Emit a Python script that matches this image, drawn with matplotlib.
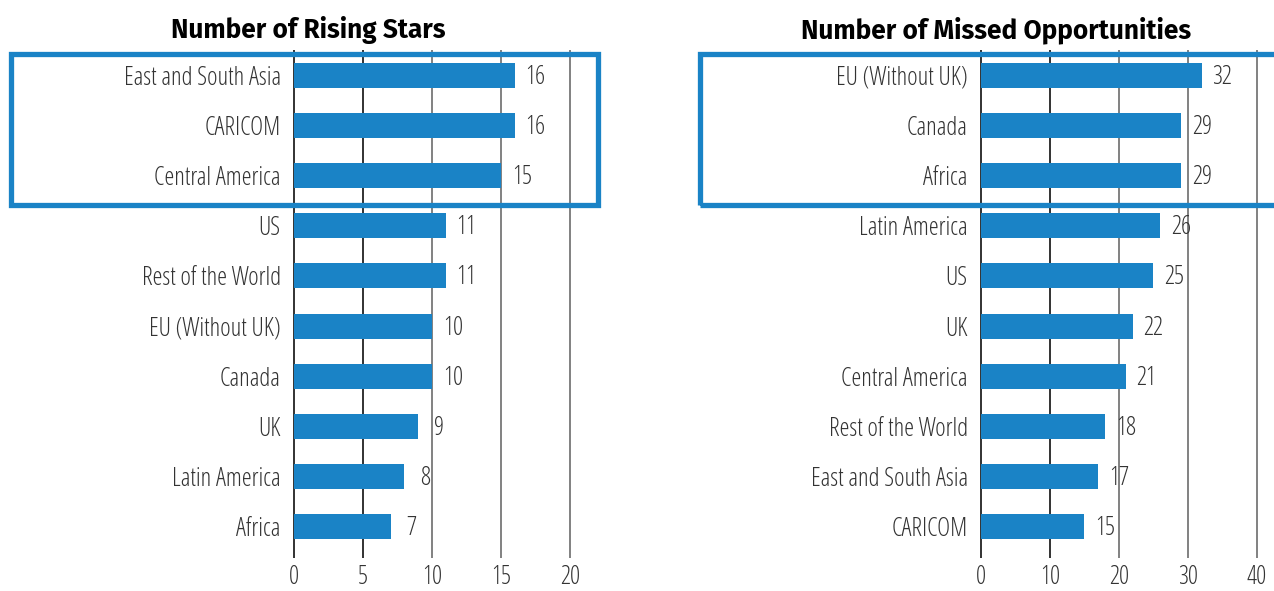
import matplotlib.pyplot as plt
from matplotlib.patches import Rectangle

# Rising stars (top to bottom)
stars_regions = ['East and South Asia', 'CARICOM', 'Central America', 'US',
                 'Rest of the World', 'EU (Without UK)', 'Canada', 'UK',
                 'Latin America', 'Africa']
stars_counts = [16, 16, 15, 11, 11, 10, 10, 9, 8, 7]
stars_ticks = [0, 5, 10, 15, 20]

# Missed opportunities (top to bottom)
missed_regions = ['EU (Without UK)', 'Canada', 'Africa', 'Latin America', 'US',
                  'UK', 'Central America', 'Rest of the World',
                  'East and South Asia', 'CARICOM']
missed_counts = [32, 29, 29, 26, 25, 22, 21, 18, 17, 15]
missed_ticks = [0, 10, 20, 30, 40]

BLUE = '#1a83c6'
TXT = '#333333'
LABEL_FONT = dict(family=['Open Sans', 'DejaVu Sans'], weight=300,
                  stretch='condensed', fontsize=18, color=TXT)
TITLE_FONT = ['Fira Sans', 'Lato', 'DejaVu Sans']

fig = plt.figure(figsize=(12.74, 5.91), dpi=100)
W, H = 1274, 591


def panel(rect, regions, counts, ticks, xlim, title, title_x):
    ax = fig.add_axes(rect)
    pos = list(range(len(regions)))
    for i, t in enumerate(ticks):
        ax.axvline(t, color='#222222' if i < 2 else '#777777', lw=1.3, zorder=0)
    ax.barh(pos, counts, height=0.5, color=BLUE, zorder=2)
    for p, v in zip(pos, counts):
        ax.annotate(str(v), (v, p), xytext=(15, -1.5), textcoords='offset points',
                    ha='center', va='center', zorder=3, **LABEL_FONT)
    ax.set_xlim(*xlim)
    ax.set_ylim(9.62, -0.5)
    ax.set_yticks(pos)
    ax.set_yticklabels(regions, **LABEL_FONT)
    ax.set_xticks(ticks)
    ax.set_xticklabels([str(t) for t in ticks], **LABEL_FONT)
    ax.tick_params(axis='both', length=0)
    ax.tick_params(axis='y', pad=7)
    ax.tick_params(axis='x', pad=5)
    for s in ax.spines.values():
        s.set_visible(False)
    ax.patch.set_alpha(0)
    fig.text(title_x / W, 1 - 30 / H, title, ha='center', va='center',
             fontsize=18.9, fontweight='bold', family=TITLE_FONT, color='black')
    return ax


panel([290.5 / W, 0.0558, 307 / W, 0.8596], stars_regions, stars_counts,
      stars_ticks, (-0.25, 22), 'Number of Rising Stars', 308)
panel([977.5 / W, 0.0558, 296.5 / W, 0.8596], missed_regions, missed_counts,
      missed_ticks, (-0.5, 42.5), 'Number of Missed Opportunities', 996)

# highlight boxes around the top three rows
for x0, x1 in [(10.5, 597.5), (699.5, 1290)]:
    fig.patches.append(Rectangle((x0 / W, 1 - 205 / H), (x1 - x0) / W,
                                 (205 - 54.5) / H, transform=fig.transFigure,
                                 fill=False, edgecolor=BLUE, lw=3.8,
                                 zorder=5))

fig.savefig('out.png', dpi=100)
